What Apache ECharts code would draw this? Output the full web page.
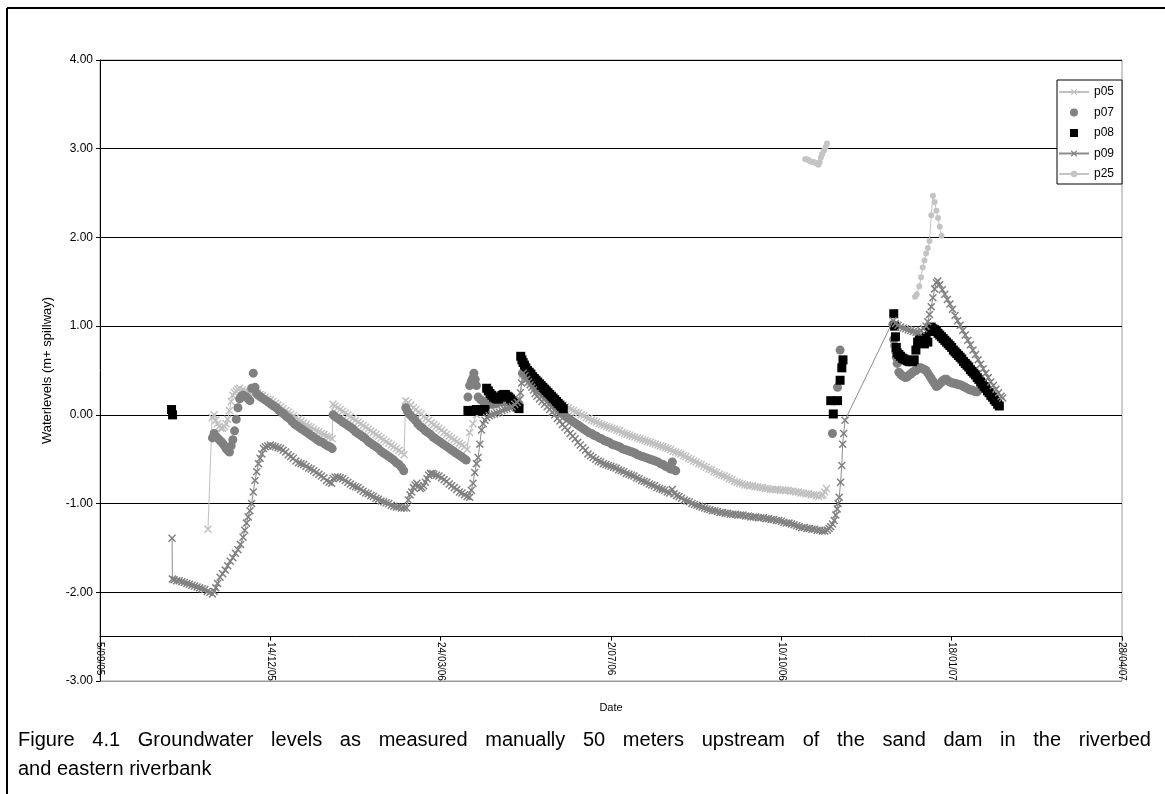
<!DOCTYPE html>
<html>
<head>
<meta charset="utf-8">
<title>Groundwater levels</title>
<script src="https://cdn.jsdelivr.net/npm/echarts@6.0.0/dist/echarts.min.js"></script>
<style>
  html, body { margin: 0; padding: 0; background: #fff; }
  #chart { position: absolute; left: 0; top: 0; width: 1165px; height: 794px; }
  #caption {
    position: absolute; left: 18px; top: 725px; width: 1133px;
    font-family: "Liberation Sans", Arial, sans-serif; font-size: 20px; line-height: 29px; color: #000;
  }
  #caption .first { text-align: justify; text-align-last: justify; }
</style>
</head>
<body>
<div id="chart"></div>
<div id="caption">
  <div class="first">Figure 4.1 Groundwater levels as measured manually 50 meters upstream of the sand dam in the riverbed</div>
  <div>and eastern riverbank</div>
</div>
<script>
// x values are days counted from 5 September 2005; y values are water levels (m + spillway)
const seriesNames = ['p05', 'p07', 'p08', 'p09', 'p25'];
const tickLabels = ['5/09/05', '14/12/05', '24/03/06', '2/07/06', '10/10/06', '18/01/07', '28/04/07'];
const yTicks = [-3, -2, -1, 0, 1, 2, 3, 4];

const p05 = [
  [63.4,-1.29],[65.8,-0.03],[67,0.0],[68,-0.06],[69,-0.1],[70,-0.13],[71,-0.15],[72,-0.15],[73,-0.13],[74,-0.1],
  [75,-0.05],[76,0.05],[77,0.15],[78,0.22],[79,0.25],[80,0.27],[81,0.29],[82,0.3],[83.5,0.28],[85,0.27],
  [86.5,0.26],[88,0.25],[89.5,0.26],[91,0.26],[92.5,0.25],[94,0.23],[95.5,0.22],[97,0.2],[98.5,0.18],[100,0.17],
  [101.5,0.15],[103,0.13],[104.5,0.11],[106,0.09],[107.5,0.07],[109,0.05],[110.5,0.03],[112,0.01],[113.5,-0.01],
  [115,-0.03],[116.5,-0.05],[118,-0.07],[119.5,-0.09],[121,-0.11],[122.5,-0.13],[124,-0.14],[125.5,-0.16],
  [127,-0.18],[128.5,-0.19],[130,-0.21],[131.5,-0.22],[133,-0.24],[134.5,-0.25],[136.3,-0.27],
  [136.8,0.12],[138,0.1],[139.5,0.08],[141,0.06],[142.5,0.04],[144,0.02],[145.5,0.0],[147,-0.02],[148.5,-0.04],
  [150,-0.06],[151.5,-0.08],[153,-0.1],[154.5,-0.12],[156,-0.14],[157.5,-0.16],[159,-0.18],[160.5,-0.2],
  [162,-0.22],[163.5,-0.24],[165,-0.26],[166.5,-0.28],[168,-0.3],[169.5,-0.32],[171,-0.34],[172.5,-0.36],
  [174,-0.38],[175.5,-0.4],[177,-0.42],[178.5,-0.45],
  [179.5,0.16],[181,0.14],[182.5,0.11],[184,0.08],[185.5,0.06],[187,0.03],[188.5,0.01],[190,-0.02],[191.5,-0.04],
  [193,-0.06],[194.5,-0.09],[196,-0.11],[197.5,-0.13],[199,-0.15],[200.5,-0.17],[202,-0.2],[203.5,-0.22],
  [205,-0.24],[206.5,-0.26],[208,-0.28],[209.5,-0.3],[211,-0.32],[212.5,-0.34],[214,-0.36],[215.5,-0.39],
  [217,-0.2],[219,-0.1],[221,0.0],[223,0.05],[226,0.08],[229,0.1],[232,0.11],[235,0.12],[238,0.13],[241,0.14],
  [244,0.15],[246.5,0.17],
  [248,0.45],[249.5,0.42],[251,0.4],[252.5,0.37],[254,0.35],[255.5,0.32],[257,0.3],[258.5,0.28],[260,0.26],
  [261.5,0.24],[263,0.22],[264.5,0.2],[266,0.18],[267.5,0.16],[269,0.14],[270.5,0.12],[272,0.11],[273.5,0.09],
  [275,0.08],[276.5,0.06],[278,0.05],[279.5,0.03],[281,0.02],[282.5,0.0],[284,-0.01],[285.5,-0.03],[287,-0.04],
  [288.5,-0.06],[290,-0.07],[291.5,-0.08],[293,-0.1],[294.5,-0.11],[296,-0.12],[297.5,-0.13],[299,-0.14],
  [300.5,-0.15],[302,-0.16],[303.5,-0.17],[305,-0.18],[306.5,-0.2],[308,-0.21],[309.5,-0.22],[311,-0.23],
  [312.5,-0.24],[314,-0.25],[315.5,-0.26],[317,-0.27],[318.5,-0.28],[320,-0.29],[321.5,-0.3],[323,-0.31],
  [324.5,-0.32],[326,-0.33],[327.5,-0.34],[329,-0.35],[330.5,-0.36],[332,-0.37],[333.5,-0.38],[335,-0.39],
  [336.5,-0.41],[338,-0.42],[339.5,-0.43],[341,-0.44],[342.5,-0.46],[344,-0.47],[345.5,-0.49],[347,-0.5],
  [348.5,-0.52],[350,-0.53],[351.5,-0.55],[353,-0.56],[354.5,-0.58],[356,-0.59],[357.5,-0.61],[359,-0.62],
  [360.5,-0.64],[362,-0.65],[363.5,-0.67],[365,-0.68],[366.5,-0.69],[368,-0.7],[369.5,-0.72],[371,-0.73],
  [372.5,-0.75],[374,-0.76],[375.5,-0.77],[377,-0.78],[378.5,-0.79],[380,-0.79],[381.5,-0.8],[383,-0.8],
  [384.5,-0.81],[386,-0.81],[387.5,-0.82],[389,-0.82],[390.5,-0.83],[392,-0.83],[393.5,-0.84],[395,-0.84],
  [396.5,-0.84],[398,-0.84],[399.5,-0.85],[401,-0.85],[402.5,-0.85],[404,-0.85],[405.5,-0.86],[407,-0.86],
  [408.5,-0.87],[410,-0.87],[411.5,-0.88],[413,-0.88],[414.5,-0.89],[416,-0.89],[417.5,-0.9],[419,-0.9],
  [420.5,-0.91],[422,-0.92],[423.5,-0.91],[424.5,-0.9],[425.5,-0.87],[426.5,-0.83]
];

const p07 = [
  [66,-0.26],[67,-0.21],[68,-0.24],[69,-0.26],[70,-0.28],[71,-0.3],[72,-0.32],[73,-0.35],[74,-0.38],[75,-0.4],
  [76,-0.42],[77,-0.35],[78,-0.28],[79,-0.18],[80,-0.05],[81,0.08],[82,0.18],[83,0.21],[84,0.22],[85,0.21],
  [86,0.2],[87,0.18],[88,0.16],[89,0.3],[90,0.47],[91,0.31],[92,0.24],[93,0.22],[94.5,0.2],[96,0.18],[97.5,0.16],
  [99,0.14],[100.5,0.12],[102,0.1],[103.5,0.08],[105,0.05],[106.5,0.03],[108,0.01],[109.5,-0.02],[111,-0.04],
  [112.5,-0.07],[114,-0.1],[115.5,-0.12],[117,-0.14],[118.5,-0.16],[120,-0.18],[121.5,-0.2],[123,-0.22],
  [124.5,-0.24],[126,-0.26],[127.5,-0.28],[129,-0.3],[130.5,-0.31],[132,-0.33],[133.5,-0.35],[135,-0.36],
  [136.3,-0.38],
  [136.8,0.0],[138,-0.02],[139.5,-0.04],[141,-0.06],[142.5,-0.08],[144,-0.1],[145.5,-0.12],[147,-0.14],
  [148.5,-0.16],[150,-0.19],[151.5,-0.21],[153,-0.23],[154.5,-0.25],[156,-0.27],[157.5,-0.3],[159,-0.32],
  [160.5,-0.34],[162,-0.36],[163.5,-0.38],[165,-0.41],[166.5,-0.43],[168,-0.45],[169.5,-0.47],[171,-0.49],
  [172.5,-0.51],[174,-0.54],[175.5,-0.56],[177,-0.59],[178.3,-0.63],
  [179.5,0.08],[180.5,0.04],[182,0.0],[183.5,-0.03],[185,-0.06],[186.5,-0.1],[188,-0.13],[189.5,-0.15],
  [191,-0.18],[192.5,-0.2],[194,-0.22],[195.5,-0.25],[197,-0.27],[198.5,-0.29],[200,-0.31],[201.5,-0.33],
  [203,-0.35],[204.5,-0.37],[206,-0.39],[207.5,-0.41],[209,-0.43],[210.5,-0.45],[212,-0.47],[213.5,-0.49],
  [215,-0.51],
  [216,0.2],[217,0.33],[218,0.38],[218.8,0.41],[219.5,0.47],[220.3,0.4],[221,0.33],[222,0.2],[223.5,0.17],
  [225,0.15],[226.5,0.13],[228,0.12],[229.5,0.12],[231,0.12],[232.5,0.13],[234,0.14],[235.5,0.15],[237,0.15],
  [238.5,0.15],[240,0.14],[241.5,0.13],[243,0.12],[244.5,0.12],[246,0.12],
  [248,0.47],[249.5,0.45],[251,0.42],[252.5,0.39],[254,0.36],[255.5,0.33],[257,0.3],[258.5,0.27],[260,0.24],
  [261.5,0.21],[263,0.18],[264.5,0.15],[266,0.12],[267.5,0.09],[269,0.06],[270.5,0.03],[272,0.01],[273.5,-0.02],
  [275,-0.04],[276.5,-0.06],[278,-0.08],[279.5,-0.1],[281,-0.12],[282.5,-0.14],[284,-0.16],[285.5,-0.18],
  [287,-0.2],[288.5,-0.21],[290,-0.23],[291.5,-0.24],[293,-0.26],[294.5,-0.27],[296,-0.29],[297.5,-0.3],
  [299,-0.31],[300.5,-0.33],[302,-0.34],[303.5,-0.35],[305,-0.36],[306.5,-0.38],[308,-0.39],[309.5,-0.4],
  [311,-0.41],[312.5,-0.42],[314,-0.43],[315.5,-0.45],[317,-0.46],[318.5,-0.47],[320,-0.48],[321.5,-0.49],
  [323,-0.5],[324.5,-0.51],[326,-0.52],[327.5,-0.53],[329,-0.55],[330.5,-0.56],[332,-0.58],[333.5,-0.59],
  [335,-0.61],[336,-0.53],[337,-0.62],[338,-0.63],
  [430,-0.21],[433,0.31],[434.5,0.73],
  [465.5,1.02],[466,0.85],[466.5,0.78],[467,0.72],[467.5,0.65],[468,0.58],[469,0.48],[470,0.46],[471,0.44],
  [472,0.43],[473,0.42],[474,0.43],[475,0.45],[476,0.46],[477,0.48],[478,0.49],[479,0.5],[480,0.52],[481,0.53],
  [482,0.53],[483,0.52],[484,0.51],[485,0.5],[486,0.47],[487,0.44],[488,0.41],[489,0.38],[490,0.35],[491,0.32],
  [492,0.33],[493,0.35],[494,0.37],[495,0.39],[496,0.4],[497,0.4],[498,0.38],[499,0.37],[500,0.36],[501,0.36],
  [502,0.35],[503,0.35],[504,0.34],[505,0.34],[506,0.33],[507,0.32],[508,0.31],[509,0.3],[510,0.29],[511,0.28],
  [512,0.28],[513,0.27],[514,0.26],[515,0.26]
];

const p08 = [
  [42,0.06],[42.6,0.0],
  [216,0.05],[217,0.04],[218,0.04],[219,0.05],[220,0.05],[221,0.06],[222,0.06],[223,0.05],[224,0.05],[225,0.06],
  [226,0.06],[227,0.3],[228,0.27],[229,0.24],[230,0.22],[231,0.2],[232,0.19],[233,0.18],[234,0.18],[235,0.2],
  [236,0.22],[237,0.23],[238,0.23],[239,0.21],[240,0.2],[241,0.18],[242,0.16],[243,0.14],[244,0.12],[245,0.09],
  [246,0.07],
  [247,0.66],[247.7,0.62],[248.4,0.59],[249.2,0.56],[250,0.53],[251,0.5],[252,0.48],[253,0.46],[254,0.43],
  [255,0.41],[256,0.39],[257,0.37],[258,0.35],[259,0.33],[260,0.31],[261,0.29],[262,0.27],[263,0.25],[264,0.23],
  [265,0.21],[266,0.19],[267,0.17],[268,0.15],[269,0.13],[270,0.11],[271,0.09],[272,0.07],
  [429,0.16],[430.5,0.01],[433,0.16],[434.5,0.39],[435.5,0.53],[436.2,0.62],
  [466,1.14],[466.5,1.0],[467,0.88],[467.5,0.76],[468,0.7],[469,0.68],[470,0.66],[471,0.64],[472,0.63],
  [473,0.62],[474,0.61],[475,0.6],[476,0.6],[477,0.6],[478,0.62],[479,0.73],[480,0.82],[481,0.85],[482,0.86],
  [483,0.83],[484,0.8],[485,0.88],[486,0.82],[487,0.94],[488,0.99],[489,0.97],[490,0.96],[491,0.94],[492,0.92],
  [493,0.9],[494,0.88],[495,0.86],[496,0.84],[497,0.82],[498,0.8],[499,0.78],[500,0.76],[501,0.73],[502,0.71],
  [503,0.69],[504,0.67],[505,0.65],[506,0.63],[507,0.6],[508,0.58],[509,0.56],[510,0.54],[511,0.51],[512,0.49],
  [513,0.47],[514,0.45],[515,0.42],[516,0.4],[517,0.37],[518,0.35],[519,0.32],[520,0.3],[521,0.27],[522,0.25],
  [523,0.22],[524,0.2],[525,0.17],[526,0.15],[527,0.12],[528,0.1]
];

const p09 = [
  [42.3,-1.39],[42.5,-1.85],[43.5,-1.86],[45,-1.87],[46.5,-1.87],[48,-1.88],[49.5,-1.89],[51,-1.9],[52.5,-1.91],
  [54,-1.92],[55.5,-1.93],[57,-1.94],[58.5,-1.95],[60,-1.96],[61.5,-1.97],[63,-1.99],[64.5,-2.0],[66,-2.02],
  [67,-1.99],[68,-1.95],[69,-1.9],[70.5,-1.83],[72,-1.79],[73.5,-1.75],[75,-1.7],[76.5,-1.65],[78,-1.61],
  [79.5,-1.56],[81,-1.52],[82.5,-1.46],[84,-1.38],[85,-1.3],[86,-1.22],[87,-1.15],[88,-1.08],[89,-1.0],
  [90,-0.87],[91,-0.74],[92,-0.64],[93,-0.55],[94,-0.49],[95,-0.44],[96,-0.38],[97,-0.36],[98.5,-0.35],
  [100,-0.34],[101.5,-0.35],[103,-0.36],[104.5,-0.37],[106,-0.38],[107.5,-0.4],[109,-0.42],[110.5,-0.45],
  [112,-0.47],[113.5,-0.49],[115,-0.52],[116.5,-0.54],[118,-0.55],[119.5,-0.56],[121,-0.58],[122.5,-0.6],
  [124,-0.61],[125.5,-0.63],[127,-0.65],[128.5,-0.67],[130,-0.69],[131.5,-0.71],[133,-0.74],[134.5,-0.76],
  [136,-0.77],[137,-0.72],[138,-0.7],[139.5,-0.7],[141,-0.71],[142.5,-0.72],[144,-0.74],[145.5,-0.76],
  [147,-0.78],[148.5,-0.8],[150,-0.81],[151.5,-0.82],[153,-0.84],[154.5,-0.86],[156,-0.88],[157.5,-0.89],
  [159,-0.91],[160.5,-0.92],[162,-0.94],[163.5,-0.95],[165,-0.97],[166.5,-0.98],[168,-0.99],[169.5,-1.0],
  [171,-1.02],[172.5,-1.03],[174,-1.04],[175.5,-1.04],[177,-1.05],[178.5,-1.05],[180,-1.05],[181,-0.96],
  [182,-0.9],[183,-0.87],[184,-0.82],[185,-0.79],[186,-0.77],[187,-0.8],[188,-0.83],[189,-0.82],[190,-0.8],
  [191,-0.76],[192,-0.72],[193,-0.68],[194,-0.66],[195,-0.66],[196,-0.67],[197.5,-0.68],[199,-0.69],
  [200.5,-0.71],[202,-0.73],[203.5,-0.75],[205,-0.78],[206.5,-0.8],[208,-0.82],[209.5,-0.84],[211,-0.87],
  [212.5,-0.88],[214,-0.9],[215.5,-0.92],[217,-0.93],[218,-0.85],[219,-0.77],[220,-0.65],[221,-0.55],
  [222,-0.48],[223,-0.33],[224,-0.17],[225,-0.1],[226,-0.06],[227,-0.03],[228.5,-0.01],[230,0.0],[231.5,0.01],
  [233,0.02],[234.5,0.03],[236,0.05],[237.5,0.06],[239,0.07],[240.5,0.08],[242,0.09],[243.5,0.12],[245,0.14],
  [246,0.17],[246.8,0.25],[247.5,0.36],[248.5,0.47],[249.5,0.44],[250.5,0.4],[251.5,0.37],[252.5,0.34],
  [253.5,0.31],[254.5,0.28],[255.5,0.24],[256.5,0.21],[258,0.18],[259.5,0.15],[261,0.12],[262.5,0.09],
  [264,0.06],[265.5,0.03],[267,0.0],[268.5,-0.04],[270,-0.07],[271.5,-0.11],[273,-0.14],[274.5,-0.17],
  [276,-0.21],[277.5,-0.24],[279,-0.27],[280.5,-0.31],[282,-0.34],[283.5,-0.37],[285,-0.4],[286.5,-0.44],
  [288,-0.46],[289.5,-0.48],[291,-0.5],[292.5,-0.52],[294,-0.53],[295.5,-0.55],[297,-0.56],[298.5,-0.57],
  [300,-0.58],[301.5,-0.59],[303,-0.6],[304.5,-0.62],[306,-0.63],[307.5,-0.64],[309,-0.66],[310.5,-0.67],
  [312,-0.68],[313.5,-0.69],[315,-0.71],[316.5,-0.72],[318,-0.74],[319.5,-0.75],[321,-0.76],[322.5,-0.78],
  [324,-0.79],[325.5,-0.8],[327,-0.82],[328.5,-0.83],[330,-0.84],[331.5,-0.85],[333,-0.87],[334.5,-0.88],
  [336,-0.84],[337,-0.89],[338.5,-0.91],[340,-0.92],[341.5,-0.94],[343,-0.96],[344.5,-0.97],[346,-0.98],
  [347.5,-1.0],[349,-1.01],[350.5,-1.02],[352,-1.03],[353.5,-1.04],[355,-1.05],[356.5,-1.06],[358,-1.07],
  [359.5,-1.08],[361,-1.08],[362.5,-1.09],[364,-1.1],[365.5,-1.1],[367,-1.11],[368.5,-1.11],[370,-1.12],
  [371.5,-1.12],[373,-1.12],[374.5,-1.13],[376,-1.13],[377.5,-1.13],[379,-1.14],[380.5,-1.14],[382,-1.15],
  [383.5,-1.15],[385,-1.15],[386.5,-1.16],[388,-1.16],[389.5,-1.16],[391,-1.17],[392.5,-1.17],[394,-1.18],
  [395.5,-1.18],[397,-1.19],[398.5,-1.19],[400,-1.2],[401.5,-1.21],[403,-1.22],[404.5,-1.22],[406,-1.23],
  [407.5,-1.24],[409,-1.25],[410.5,-1.26],[412,-1.27],[413.5,-1.27],[415,-1.28],[416.5,-1.28],[418,-1.29],
  [419.5,-1.29],[421,-1.3],[422.5,-1.3],[424,-1.31],[425.5,-1.31],[427,-1.3],[428,-1.28],[429,-1.26],
  [430,-1.23],[431,-1.19],[432,-1.13],[432.8,-1.06],[433.3,-1.0],[434,-0.93],[434.8,-0.76],[435.5,-0.57],
  [436,-0.33],[436.6,-0.21],[437.4,-0.06],
  [465.6,1.06],[467,1.03],[468.5,1.01],[470,0.99],[471.5,0.98],[473,0.97],[474.5,0.96],[476,0.95],[477.5,0.94],
  [479,0.93],[480.5,0.93],[482,0.95],[483.5,0.97],[485,1.0],[486,1.05],[487,1.13],[488,1.22],[489,1.32],
  [490,1.42],[491,1.49],[491.8,1.51],[493,1.47],[494.5,1.41],[496,1.36],[497.5,1.3],[499,1.25],[500.5,1.19],
  [502,1.12],[503.5,1.06],[505,1.01],[506.5,0.95],[508,0.9],[509.5,0.84],[511,0.79],[512.5,0.73],[514,0.68],
  [515.5,0.62],[517,0.57],[518.5,0.52],[520,0.47],[521.5,0.42],[523,0.37],[524.5,0.33],[526,0.29],[527.5,0.25],
  [529,0.21],[530,0.19]
];

const p25 = [
  [414,2.88],[415,2.88],[416,2.87],[417,2.86],[418,2.85],[419,2.85],[420,2.84],[421,2.83],[421.8,2.82],
  [422.5,2.85],[423.2,2.9],[424,2.94],[425,2.98],[426,3.02],[426.8,3.06],
  [450,null],
  [478.5,1.33],[479.5,1.36],[481,1.45],[482,1.55],[483,1.66],[484,1.74],[485,1.82],[486,1.88],[487,1.96],
  [488,2.25],[489,2.47],[490,2.4],[491,2.3],[492,2.22],[493,2.12],[494,2.02]
];

// filled "x" marker and a square legend icon
const CROSS = 'path://M0,1.3L1.3,0L5,3.7L8.7,0L10,1.3L6.3,5L10,8.7L8.7,10L5,6.3L1.3,10L0,8.7L3.7,5Z';
const SQUARE = 'path://M0,0L10,0L10,10L0,10Z';
const FONT = '"Liberation Sans", Arial, sans-serif';

const chart = echarts.init(document.getElementById('chart'), null, { renderer: 'canvas' });

chart.setOption({
  animation: false,
  backgroundColor: '#fff',
  textStyle: { fontFamily: FONT, color: '#000' },
  grid: {
    left: 100, right: 43, top: 60, bottom: 113,
    show: true, borderColor: '#9a9a9a', borderWidth: 1, backgroundColor: 'transparent',
    containLabel: false, outerBoundsMode: 'none'
  },
  legend: {
    orient: 'vertical', left: 1057, top: 80,
    padding: [6, 8, 4, 1], itemGap: 8.5, itemWidth: 30, itemHeight: 8,
    symbolKeepAspect: true,
    borderColor: '#000', borderWidth: 1, borderRadius: 0, backgroundColor: '#fff',
    textStyle: { fontSize: 12, color: '#000', fontFamily: FONT },
    data: seriesNames.map(n => (n === 'p08' ? { name: n, icon: SQUARE } : { name: n }))
  },
  xAxis: {
    type: 'value', min: 0, max: 600, interval: 100,
    name: 'Date', nameLocation: 'middle', nameGap: 21,
    nameTextStyle: { fontSize: 11, color: '#000', fontFamily: FONT },
    axisLine: { show: true, onZero: true, onZeroAxisIndex: 1, lineStyle: { color: '#000', width: 1 } },
    axisTick: { show: true, inside: false, length: 4, lineStyle: { color: '#000' } },
    axisLabel: {
      rotate: -90, margin: -39, fontSize: 10, color: '#000', fontFamily: FONT,
      showMinLabel: true, showMaxLabel: true,
      formatter: v => tickLabels[Math.round(v / 100)]
    },
    splitLine: { show: false }
  },
  yAxis: [
    {
      type: 'value', min: yTicks[0], max: yTicks[yTicks.length - 1], interval: 1, position: 'left',
      name: 'Waterlevels (m+ spillway)', nameLocation: 'middle', nameRotate: 90, nameGap: 46,
      nameTextStyle: { fontSize: 13, color: '#000', fontFamily: FONT },
      axisLine: { show: true, onZero: false, lineStyle: { color: '#000', width: 1 } },
      axisTick: { show: true, inside: false, length: 4, lineStyle: { color: '#000' } },
      axisLabel: { margin: 7, fontSize: 12, color: '#000', fontFamily: FONT, formatter: v => v.toFixed(2) },
      splitLine: {
        show: true,
        lineStyle: { color: yTicks.map(t => (t === yTicks[0] ? '#9a9a9a' : '#000')), width: 1 }
      }
    },
    {
      // helper scale: its zero sits at -2.50 of the main scale, where the date axis crosses
      type: 'value', min: -0.5, max: 6.5, show: false,
      axisLine: { onZero: false }, splitLine: { show: false }
    }
  ],
  graphic: [
    { type: 'line', silent: true, shape: { x1: 7, y1: 8, x2: 1165, y2: 8 }, style: { stroke: '#000', lineWidth: 2 } },
    { type: 'line', silent: true, shape: { x1: 7, y1: 8, x2: 7, y2: 794 }, style: { stroke: '#000', lineWidth: 2 } }
  ],
  series: [
    {
      name: 'p05', type: 'line', data: p05, connectNulls: false,
      symbol: CROSS, symbolSize: 8, symbolKeepAspect: true, showSymbol: true, showAllSymbol: true,
      itemStyle: { color: '#c0c0c0' }, lineStyle: { color: '#c0c0c0', width: 1 }, z: 2
    },
    {
      name: 'p07', type: 'scatter', data: p07,
      symbol: 'circle', symbolSize: 9, symbolKeepAspect: true,
      itemStyle: { color: '#808080', opacity: 1 }, z: 3
    },
    {
      name: 'p08', type: 'scatter', data: p08,
      symbol: 'rect', symbolSize: 9, symbolKeepAspect: true,
      itemStyle: { color: '#000', opacity: 1 }, z: 4
    },
    {
      name: 'p09', type: 'line', data: p09, connectNulls: false,
      symbol: CROSS, symbolSize: 8, symbolKeepAspect: true, showSymbol: true, showAllSymbol: true,
      itemStyle: { color: '#808080' }, lineStyle: { color: '#8c8c8c', width: 1 }, z: 5
    },
    {
      name: 'p25', type: 'line', data: p25, connectNulls: false,
      symbol: 'circle', symbolSize: 6, symbolKeepAspect: true, showSymbol: true, showAllSymbol: true,
      itemStyle: { color: '#c4c4c4' }, lineStyle: { color: '#c4c4c4', width: 1 }, z: 6
    }
  ]
});
</script>
</body>
</html>
